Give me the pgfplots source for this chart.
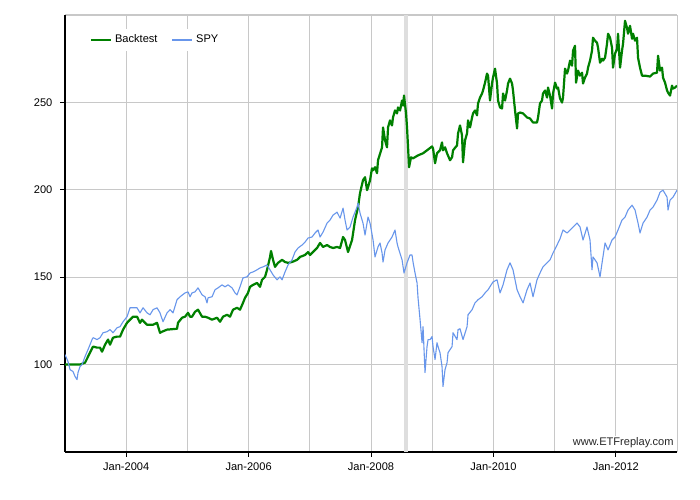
\documentclass[border=0pt]{standalone}
\usepackage{fontspec}
\setmainfont{Liberation Sans}
\usepackage{pgfplots}
\usepackage{pgfplotstable}
\pgfplotsset{compat=1.18}
\definecolor{btgreen}{RGB}{0,128,0}
\definecolor{spyblue}{RGB}{104,150,235}
\definecolor{gridgray}{RGB}{200,200,200}
\definecolor{bandgray}{RGB}{222,222,222}

\pgfplotstableread{
x y
2003.000 100.0
2003.245 100.0
2003.327 101.1
2003.408 106.8
2003.458 110.3
2003.523 109.7
2003.572 109.7
2003.605 107.4
2003.654 111.4
2003.703 114.3
2003.735 111.4
2003.784 115.4
2003.850 116.0
2003.899 116.0
2003.948 120.0
2004.013 123.9
2004.062 125.7
2004.111 127.4
2004.176 127.4
2004.225 123.9
2004.258 125.7
2004.307 123.9
2004.340 122.8
2004.438 122.8
2004.503 123.9
2004.552 118.2
2004.585 118.8
2004.667 120.0
2004.830 120.5
2004.846 123.9
2004.912 126.8
2004.961 127.4
2005.010 129.6
2005.043 127.4
2005.075 127.4
2005.124 130.2
2005.173 131.4
2005.239 127.4
2005.288 127.4
2005.337 126.8
2005.402 125.7
2005.484 126.8
2005.533 124.5
2005.582 127.4
2005.647 128.5
2005.696 127.4
2005.745 131.4
2005.810 132.5
2005.859 131.4
2005.908 135.3
2005.941 138.2
2005.990 141.0
2006.023 144.5
2006.072 145.6
2006.137 146.7
2006.186 144.5
2006.219 148.5
2006.268 150.2
2006.301 154.2
2006.350 161.6
2006.366 165.0
2006.399 159.9
2006.431 155.9
2006.480 158.2
2006.546 159.9
2006.595 158.7
2006.644 158.2
2006.709 158.7
2006.791 159.9
2006.840 161.6
2006.922 162.7
2006.971 164.4
2007.003 162.7
2007.052 164.4
2007.118 166.7
2007.167 169.6
2007.216 167.3
2007.281 168.4
2007.330 167.3
2007.379 166.7
2007.445 167.3
2007.494 166.7
2007.543 173.0
2007.575 171.3
2007.624 164.4
2007.690 171.3
2007.739 182.7
2007.788 190.1
2007.820 198.1
2007.869 205.5
2007.902 207.2
2007.935 199.8
2007.951 201.5
2007.984 205.5
2008.016 212.3
2008.033 211.2
2008.065 212.9
2008.098 209.5
2008.114 216.9
2008.180 224.3
2008.196 235.7
2008.229 228.3
2008.261 224.3
2008.278 235.7
2008.310 239.7
2008.343 236.8
2008.359 241.4
2008.392 245.4
2008.425 243.7
2008.441 247.1
2008.474 245.4
2008.507 251.1
2008.523 248.2
2008.539 253.9
2008.572 243.7
2008.588 235.7
2008.605 224.3
2008.621 212.9
2008.654 218.6
2008.686 218.0
2008.768 219.7
2008.850 220.9
2008.915 222.6
2008.997 224.8
2009.013 223.7
2009.046 215.2
2009.078 220.9
2009.127 222.6
2009.160 227.1
2009.176 222.6
2009.209 224.3
2009.242 220.9
2009.291 216.9
2009.324 218.6
2009.340 222.6
2009.405 225.4
2009.422 232.3
2009.454 236.8
2009.487 231.1
2009.503 215.7
2009.536 228.3
2009.569 232.3
2009.585 239.7
2009.618 235.7
2009.651 241.4
2009.667 243.7
2009.699 245.4
2009.732 242.6
2009.748 249.4
2009.781 252.8
2009.814 255.1
2009.830 256.8
2009.863 261.3
2009.895 266.5
2009.912 265.3
2009.944 251.1
2009.977 260.8
2009.993 264.2
2010.026 269.3
2010.059 260.8
2010.075 251.1
2010.108 247.1
2010.141 246.5
2010.157 255.1
2010.190 251.1
2010.222 256.8
2010.239 260.8
2010.271 263.6
2010.304 260.8
2010.320 256.8
2010.353 245.4
2010.386 235.1
2010.402 243.7
2010.435 244.2
2010.484 243.7
2010.549 241.4
2010.598 240.8
2010.647 238.5
2010.712 238.5
2010.729 241.4
2010.761 249.4
2010.794 251.1
2010.810 255.1
2010.843 256.8
2010.876 252.8
2010.892 258.5
2010.925 253.9
2010.958 246.5
2010.974 255.1
2011.007 261.3
2011.039 257.9
2011.056 258.5
2011.088 252.2
2011.121 249.9
2011.137 252.8
2011.170 269.3
2011.203 266.5
2011.219 268.2
2011.252 273.9
2011.284 271.0
2011.301 279.6
2011.333 282.4
2011.350 261.3
2011.382 268.2
2011.415 265.3
2011.448 267.0
2011.464 260.8
2011.497 264.2
2011.529 266.5
2011.546 269.9
2011.578 273.9
2011.611 279.6
2011.627 287.0
2011.660 285.3
2011.693 284.1
2011.709 281.3
2011.742 272.7
2011.775 275.0
2011.791 273.9
2011.824 275.6
2011.856 283.6
2011.873 289.3
2011.905 287.0
2011.938 281.3
2011.954 269.9
2011.987 277.9
2012.020 280.7
2012.036 289.3
2012.069 269.9
2012.101 279.6
2012.118 283.6
2012.150 296.7
2012.183 292.7
2012.199 289.3
2012.232 293.8
2012.265 286.4
2012.281 289.3
2012.314 285.3
2012.346 287.0
2012.363 275.6
2012.395 269.9
2012.428 265.3
2012.477 265.3
2012.559 264.8
2012.608 266.5
2012.673 267.0
2012.690 276.7
2012.722 268.2
2012.755 269.9
2012.771 264.2
2012.804 261.3
2012.837 256.8
2012.853 255.6
2012.886 253.9
2012.918 259.6
2012.935 257.9
2012.967 258.5
2013.000 259.6
}\backtest

\pgfplotstableread{
x y
2003.000 105.7
2003.049 101.7
2003.082 97.1
2003.131 96.0
2003.163 93.2
2003.196 91.4
2003.212 95.4
2003.245 98.9
2003.278 100.0
2003.327 104.6
2003.376 108.6
2003.441 114.3
2003.458 115.4
2003.523 114.3
2003.572 115.4
2003.621 118.2
2003.686 118.8
2003.735 120.0
2003.784 118.2
2003.850 121.1
2003.899 121.7
2003.948 124.5
2004.013 127.4
2004.062 132.5
2004.111 132.5
2004.176 132.5
2004.225 129.6
2004.275 132.5
2004.340 129.6
2004.389 128.5
2004.438 131.4
2004.503 132.5
2004.552 129.6
2004.601 124.5
2004.667 129.6
2004.716 131.4
2004.765 129.6
2004.830 137.1
2004.879 138.8
2004.961 141.0
2005.010 141.6
2005.043 138.8
2005.075 141.0
2005.124 141.6
2005.173 143.9
2005.239 139.9
2005.288 138.8
2005.320 135.3
2005.337 138.2
2005.402 138.8
2005.451 142.8
2005.500 143.9
2005.565 145.6
2005.614 144.5
2005.663 145.6
2005.729 143.9
2005.778 141.0
2005.810 139.9
2005.859 144.5
2005.908 149.6
2005.974 150.2
2006.023 152.4
2006.072 153.0
2006.137 154.2
2006.186 155.3
2006.235 155.9
2006.301 157.0
2006.350 154.2
2006.399 151.3
2006.464 148.5
2006.513 150.2
2006.546 148.5
2006.595 153.0
2006.644 157.0
2006.709 159.9
2006.758 164.4
2006.807 166.7
2006.873 168.4
2006.922 170.1
2006.971 172.4
2007.036 173.0
2007.085 175.3
2007.134 177.0
2007.167 173.0
2007.216 175.8
2007.281 180.9
2007.330 182.7
2007.379 185.5
2007.445 187.2
2007.494 183.8
2007.543 189.5
2007.575 182.7
2007.608 177.0
2007.657 178.7
2007.706 184.4
2007.771 190.1
2007.788 192.4
2007.820 186.7
2007.869 180.9
2007.902 174.1
2007.951 184.4
2007.984 180.9
2008.033 171.3
2008.065 161.6
2008.114 167.3
2008.147 169.6
2008.180 163.9
2008.196 158.7
2008.229 165.6
2008.278 169.6
2008.343 173.0
2008.392 177.0
2008.425 169.6
2008.441 167.3
2008.507 159.9
2008.539 152.4
2008.588 158.2
2008.637 162.7
2008.670 162.7
2008.686 158.7
2008.719 152.4
2008.752 146.7
2008.768 138.2
2008.801 125.7
2008.834 112.5
2008.850 121.7
2008.882 95.4
2008.915 110.3
2008.932 114.3
2008.964 114.3
2008.997 116.0
2009.013 110.3
2009.046 102.9
2009.078 112.5
2009.095 110.3
2009.127 106.8
2009.160 98.9
2009.176 87.5
2009.209 97.1
2009.242 101.1
2009.258 106.8
2009.324 110.3
2009.340 118.2
2009.405 114.3
2009.422 120.0
2009.454 120.5
2009.503 114.3
2009.569 121.7
2009.585 128.5
2009.651 131.4
2009.699 135.3
2009.748 137.1
2009.814 138.8
2009.863 141.0
2009.912 142.8
2009.993 147.3
2010.059 148.5
2010.108 141.0
2010.157 145.6
2010.222 154.2
2010.271 158.2
2010.320 154.2
2010.386 142.8
2010.435 138.8
2010.484 135.3
2010.549 142.8
2010.598 146.7
2010.647 138.8
2010.712 148.5
2010.761 152.4
2010.810 155.9
2010.876 158.2
2010.925 159.9
2010.974 163.9
2011.039 168.4
2011.088 172.0
2011.137 177.0
2011.203 175.3
2011.252 177.0
2011.301 178.7
2011.366 181.0
2011.415 178.7
2011.464 171.3
2011.529 178.7
2011.578 171.3
2011.611 154.2
2011.627 161.6
2011.693 158.2
2011.742 150.2
2011.775 158.2
2011.824 169.6
2011.873 165.6
2011.938 171.3
2011.987 173.0
2012.036 177.0
2012.101 182.7
2012.150 184.4
2012.199 188.4
2012.265 191.2
2012.314 188.4
2012.363 180.9
2012.395 175.3
2012.444 180.9
2012.510 184.4
2012.559 188.4
2012.608 190.1
2012.673 194.1
2012.722 198.6
2012.771 199.8
2012.837 195.8
2012.853 188.4
2012.886 194.1
2012.935 195.8
2013.000 199.8
}\spy

\begin{document}
\begin{tikzpicture}
\begin{axis}[
  scale only axis,
  width=442.3pt, height=315.8pt,
  xmin=2003, xmax=2013, ymin=50, ymax=300,
  axis x line*=bottom, axis y line*=left,
  axis line style={black, line width=0.8pt, -},
  xtick={2004,2006,2008,2010,2012},
  xticklabels={Jan-2004,Jan-2006,Jan-2008,Jan-2010,Jan-2012},
  minor xtick={2005,2007,2009,2011,2013},
  ytick={100,150,200,250},
  minor ytick={300},
  grid=both,
  major grid style={gridgray, line width=0.75pt},
  minor grid style={gridgray, line width=0.75pt},
  tick align=outside,
  major tick length=3.6pt,
  minor tick length=0pt,
  tick style={black, line width=0.75pt},
  tick label style={font=\fontsize{8}{9}\selectfont},
  xticklabel style={yshift=-1pt},
  yticklabel style={xshift=-2pt},
  /pgf/number format/assume math mode=true,
  /pgf/number format/1000 sep={},
  legend columns=2,
  legend style={draw=none, fill=white, at={(0.035,0.943)}, anchor=west,
    font=\fontsize{8}{9}\selectfont, inner sep=2pt,
    /tikz/every even column/.append style={column sep=8pt}},
  legend image code/.code={\draw[#1] (0pt,0pt) -- (14.5pt,0pt);},
]
\addplot[fill=bandgray, draw=none, forget plot] coordinates {(2008.54,50) (2008.60,50) (2008.60,300) (2008.54,300)} -- cycle;
\addlegendimage{btgreen, line width=2pt}
\addlegendentry{Backtest}
\addlegendimage{spyblue, line width=1.4pt}
\addlegendentry{SPY}
\addplot[btgreen, line width=1.6pt, line join=round, forget plot] table {\backtest};
\addplot[spyblue, line width=0.8pt, line join=round, forget plot] table {\spy};
\node[anchor=base east, fill=white, inner sep=1pt, font=\fontsize{8}{9}\selectfont, text=black!85] at (rel axis cs:0.997,0.014) {www.ETFreplay.com};
\end{axis}
\path (current axis.south west) ++(-47pt,-34.7pt) rectangle ++(505.9pt,361.35pt);
\end{tikzpicture}
\end{document}
